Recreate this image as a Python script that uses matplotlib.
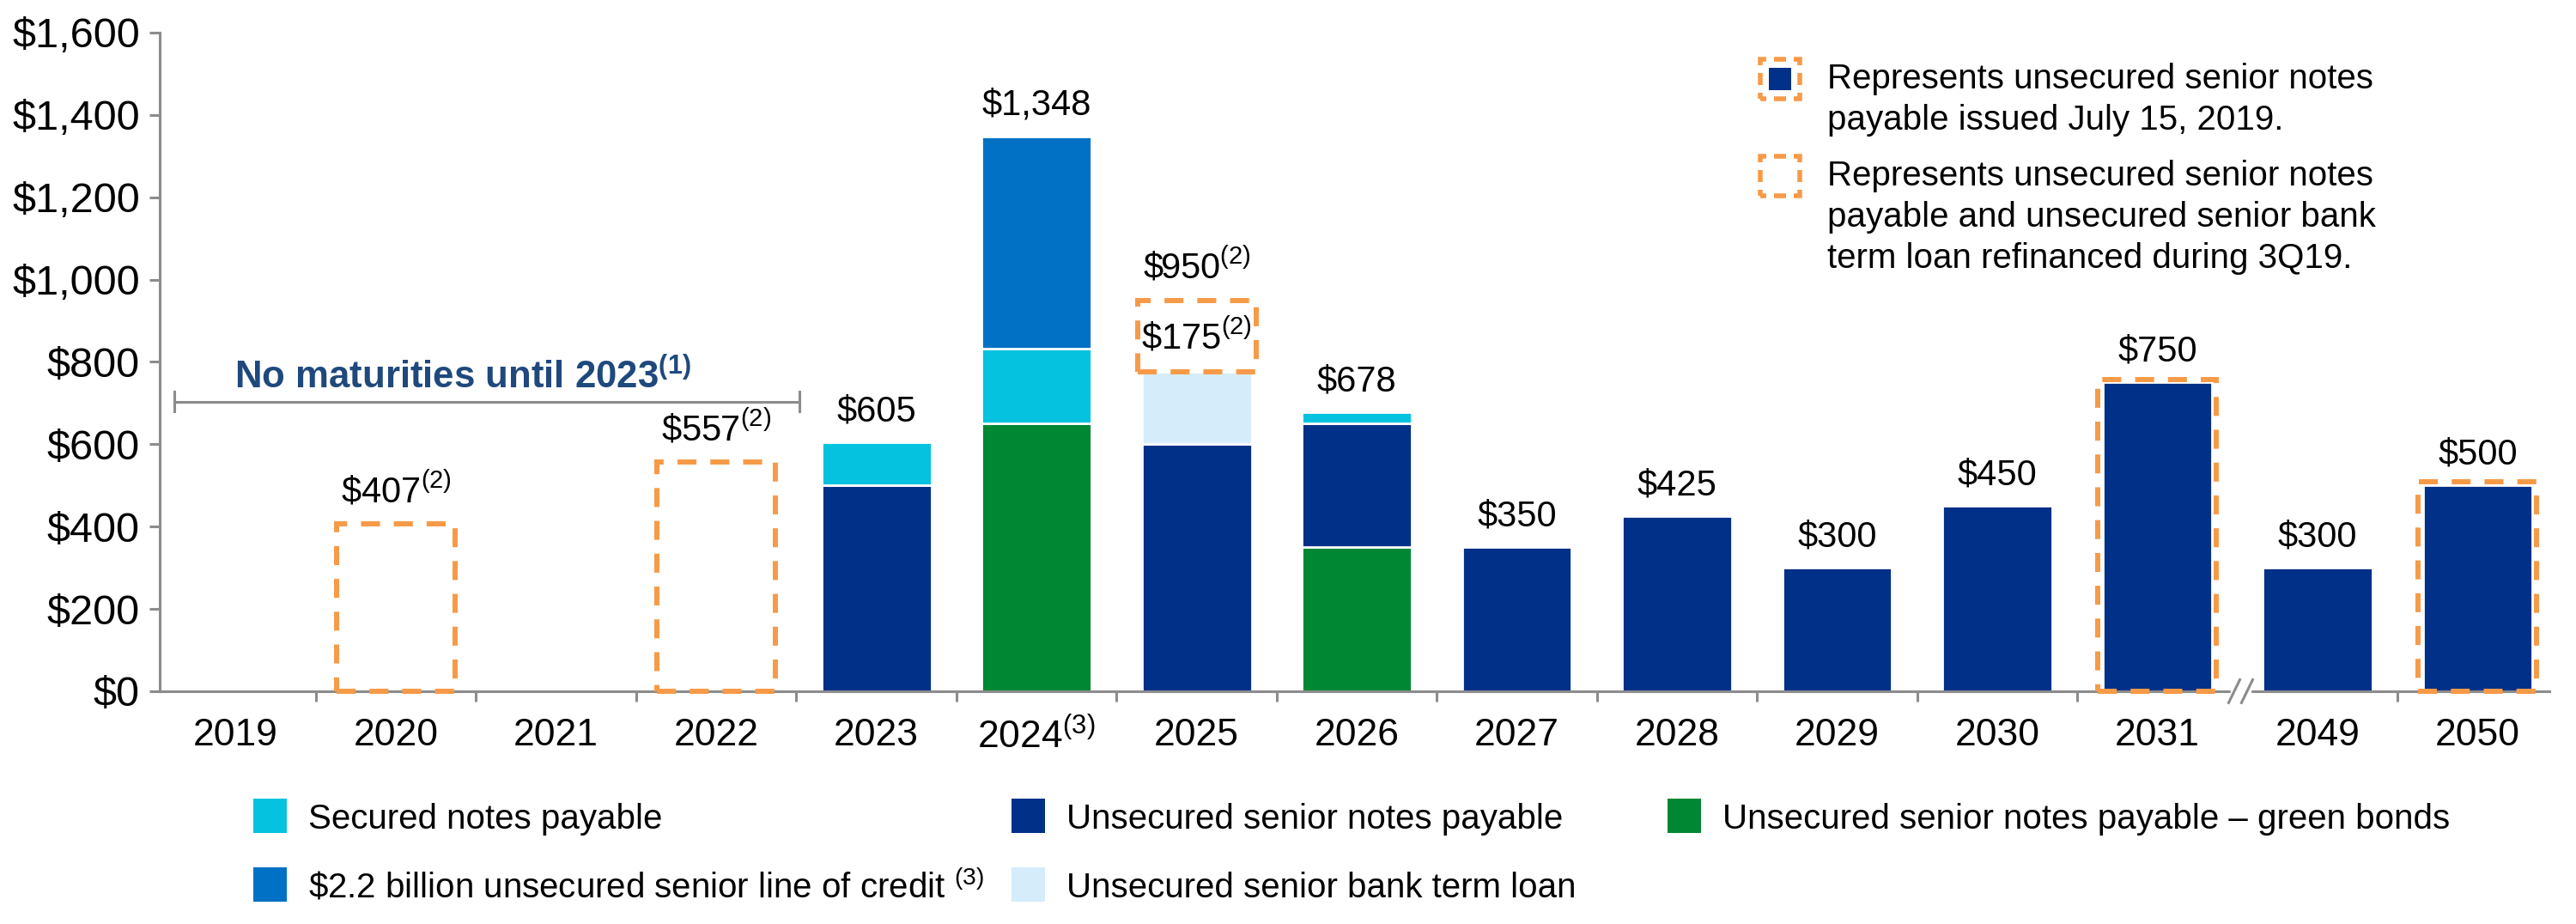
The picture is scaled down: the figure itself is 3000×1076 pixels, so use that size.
import matplotlib
matplotlib.use('Agg')
from matplotlib import pyplot as plt
from matplotlib.patches import Rectangle
import numpy as np

plt.rcParams['font.family'] = ['Liberation Sans', 'DejaVu Sans']
plt.rcParams['mathtext.fontset'] = 'custom'
plt.rcParams['mathtext.rm'] = 'Liberation Sans'
plt.rcParams['mathtext.it'] = 'Liberation Sans:italic'
plt.rcParams['mathtext.bf'] = 'Liberation Sans:bold'
plt.rcParams['mathtext.default'] = 'regular'

# debt maturities ($ in millions)
years = ['2019', '2020', '2021', '2022', '2023', '2024$^{(3)}$', '2025', '2026',
         '2027', '2028', '2029', '2030', '2031', '2049', '2050']
green = [0, 0, 0, 0, 0, 650, 0, 350, 0, 0, 0, 0, 0, 0, 0]
unsecured = [0, 0, 0, 0, 500, 0, 600, 300, 350, 425, 300, 450, 750, 300, 500]
term_loan = [0, 0, 0, 0, 0, 0, 175, 0, 0, 0, 0, 0, 0, 0, 0]
secured = [0, 0, 0, 0, 105, 183, 0, 28, 0, 0, 0, 0, 0, 0, 0]
credit_line = [0, 0, 0, 0, 0, 515, 0, 0, 0, 0, 0, 0, 0, 0, 0]

# orange dashed boxes (refinanced / issued July 2019)
box_idx = [1, 3, 6, 12, 14]
box_low = [0, 0, 775, 0, 0]
box_high = [407, 557, 950, 750, 500]

total_labels = ['', r'\$407$^{(2)}$', '', r'\$557$^{(2)}$', '$605', '$1,348',
                r'\$950$^{(2)}$', '$678', '$350', '$425', '$300', '$450', '$750',
                '$300', '$500']
inner_label = r'\$175$^{(2)}$'

yticks = [0, 200, 400, 600, 800, 1000, 1200, 1400, 1600]
ytick_labels = ['$0', '$200', '$400', '$600', '$800', '$1,000', '$1,200', '$1,400', '$1,600']

C_GREEN = '#008733'
C_NAVY = '#003087'
C_TERM = '#D5ECFB'
C_SEC = '#05C3DE'
C_LOC = '#0071C5'
C_ORANGE = '#F79A48'
C_AXIS = '#8C8C8C'
C_NOTE = '#1F497D'
FS = 29

fig = plt.figure(figsize=(30, 10.76), dpi=100)
ax = fig.add_axes([0.062, 0.2519, 0.9278, 0.7128])

x = np.arange(len(years))
bottom = np.zeros(len(years))
for vals, color in [(green, C_GREEN), (unsecured, C_NAVY), (term_loan, C_TERM),
                    (secured, C_SEC), (credit_line, C_LOC)]:
    vals = np.array(vals, dtype=float)
    m = vals > 0
    ax.bar(x[m], vals[m], width=0.686, bottom=bottom[m], color=color,
           edgecolor='white', linewidth=2, zorder=2)
    bottom += vals

# dashed boxes
for i, lo, hi in zip(box_idx, box_low, box_high):
    top = hi + 8 if bottom[i] >= hi else hi
    ax.add_patch(Rectangle((i - 0.37, lo), 0.74, top - lo, fill=False,
                           edgecolor=C_ORANGE, lw=4.3, linestyle=(0, (3.7, 2.7)),
                           zorder=3, clip_on=False))

# total labels
for i, lab in enumerate(total_labels):
    if not lab:
        continue
    top = bottom[i]
    if i in box_idx:
        top = max(top, box_high[box_idx.index(i)])
    ax.text(i, top + 52, lab, ha='center', va='baseline', fontsize=FS + 1, zorder=4)
ax.text(6, 832, inner_label, ha='center', va='baseline', fontsize=FS + 1, zorder=4)

# "No maturities" bracket
ax.plot([-0.383, 3.52], [703, 703], color=C_AXIS, lw=2.2, clip_on=False)
for xe in [-0.383, 3.52]:
    ax.plot([xe, xe], [679, 727], color=C_AXIS, lw=2.2, clip_on=False)
ax.text(1.42, 735, r'No maturities until 2023$^{\mathbf{(1)}}$', ha='center',
        va='baseline', fontsize=31.5, fontweight='bold', color=C_NOTE)

ax.set_xlim(-0.475, 14.45)
ax.set_ylim(0, 1600)
for s in ['top', 'right']:
    ax.spines[s].set_visible(False)
for s in ['left', 'bottom']:
    ax.spines[s].set_color(C_AXIS)
    ax.spines[s].set_linewidth(2.2)

ax.set_yticks(yticks, labels=ytick_labels)
ax.set_xticks(x, labels=years)
ax.set_xticks([b + 0.5 for b in range(14) if b != 12], minor=True)
ax.tick_params(axis='y', length=8.6, width=2.2, color=C_AXIS, labelsize=35, pad=8)
ax.tick_params(axis='x', which='major', length=0, labelsize=32, pad=22)
ax.tick_params(axis='x', which='minor', length=8.6, width=2.2, color=C_AXIS)

# axis break between 2031 and 2049
ax.add_patch(Rectangle((12.46, -10), 0.12, 20, color='white', zorder=5, clip_on=False))
for cx in [12.48, 12.56]:
    ax.plot([cx - 0.035, cx + 0.035], [-28, 28], color=C_AXIS, lw=2.2,
            zorder=6, clip_on=False)

W, H = 3000, 1076


def fx(px):
    return px / W


def fy(py):
    return 1 - py / H


# top-right legend
def box_marker(cx, cy, filled):
    s = 46
    fig.add_artist(Rectangle((fx(cx - s / 2), fy(cy + s / 2)), s / W, s / H, fill=False,
                             edgecolor=C_ORANGE, lw=4, linestyle=(1.26, (2.52, 1.62)),
                             transform=fig.transFigure))
    if filled:
        t = 26
        fig.add_artist(Rectangle((fx(cx - t / 2), fy(cy + t / 2)), t / W, t / H,
                                 facecolor=C_NAVY, edgecolor='none',
                                 transform=fig.transFigure))


note1 = ['Represents unsecured senior notes', 'payable issued July 15, 2019.']
note2 = ['Represents unsecured senior notes', 'payable and unsecured senior bank',
         'term loan refinanced during 3Q19.']
box_marker(2073, 92, True)
box_marker(2073, 205, False)
for k, line in enumerate(note1):
    fig.text(fx(2128), fy(103 + 48 * k), line, fontsize=FS, va='baseline')
for k, line in enumerate(note2):
    fig.text(fx(2128), fy(216 + 48 * k), line, fontsize=FS, va='baseline')

# bottom legend
legend_items = [
    ('Secured notes payable', C_SEC, 295, 950),
    ('Unsecured senior notes payable', C_NAVY, 1178, 950),
    ('Unsecured senior notes payable \u2013 green bonds', C_GREEN, 1942, 950),
    (r'\$2.2 billion unsecured senior line of credit $^{(3)}$', C_LOC, 295, 1030),
    ('Unsecured senior bank term loan', C_TERM, 1178, 1030),
]
for lab, col, px, py in legend_items:
    fig.add_artist(Rectangle((fx(px), fy(py + 20)), 39 / W, 40 / H, facecolor=col,
                             edgecolor='none', transform=fig.transFigure))
    fig.text(fx(px + 64), fy(py + 15), lab, fontsize=FS, va='baseline')

fig.savefig('out.png', dpi=100)
